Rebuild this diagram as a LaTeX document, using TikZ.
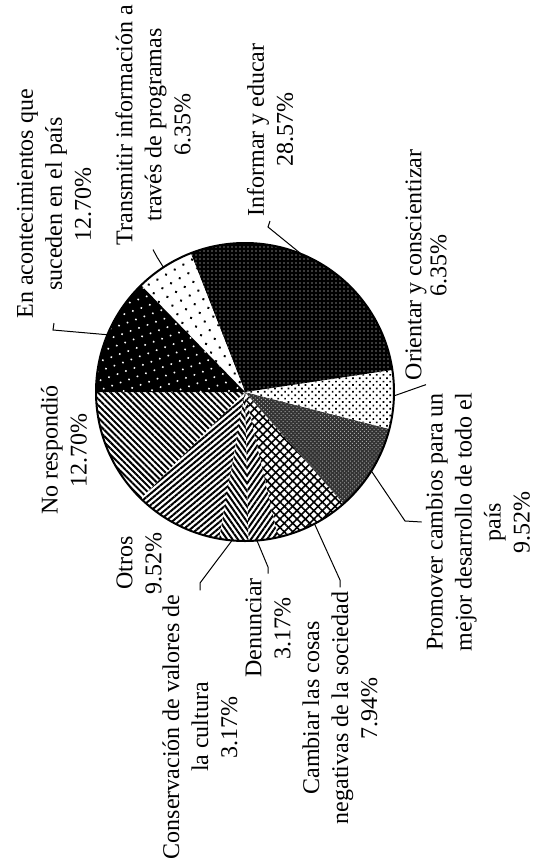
\documentclass[tikz,border=0pt]{standalone}
\usepackage{fontspec}
\setmainfont{Liberation Serif}
\usetikzlibrary{patterns.meta}

\tikzset{
  lbl/.style={rotate=90, align=center, inner sep=2pt, font=\fontsize{12}{14.5}\selectfont},
  leader/.style={line width=.5pt},
  darkdots/.style={fill=black, postaction={pattern={Dots[distance=2pt,radius=.35pt]}, pattern color=white}},
  blackdots/.style={fill=black, postaction={pattern={Dots[distance=4.5pt,radius=.55pt,angle=20]}, pattern color=white}},
  whitedots/.style={fill=white, postaction={pattern={Dots[distance=5pt,radius=.7pt,angle=30]}, pattern color=black}},
  lightdots/.style={fill=white, postaction={pattern={Dots[distance=2.4pt,radius=.6pt,angle=45]}, pattern color=black}},
  graydots/.style={fill=black!80, postaction={pattern={Dots[distance=1.4pt,radius=.35pt,angle=45]}, pattern color=black!35}},
  diamonds/.style={fill=white, postaction={pattern={Lines[angle=45,distance=3pt,line width=.8pt]}},
                   postaction={pattern={Lines[angle=-45,distance=3pt,line width=.8pt]}}},
  hatchdown/.style={fill=white, postaction={pattern={Lines[angle=-45,distance=2.2pt,line width=1pt]}}},
  hatchup/.style={fill=white, postaction={pattern={Lines[angle=40,distance=2.2pt,line width=1pt]}}},
  steepdown/.style={fill=white, postaction={pattern={Lines[angle=-55,distance=2.2pt,line width=1pt]}}},
  steepup/.style={fill=white, postaction={pattern={Lines[angle=55,distance=2.2pt,line width=1pt]}}},
}

\newcommand{\pieslice}[3]{\path[#3] (C) -- ++(#1:149) arc[start angle=#1, end angle=#2, radius=149] -- cycle;}

\begin{document}
\begin{tikzpicture}[x=.5pt,y=.5pt]
\useasboundingbox (0,0) rectangle (537,-867);
\coordinate (C) at (245,-392);
% slices
\pieslice{180}{225.72}{hatchdown}
\pieslice{225.72}{259.99}{hatchup}
\pieslice{259.99}{271.40}{steepdown}
\pieslice{271.40}{282.81}{steepup}
\pieslice{282.81}{311.39}{diamonds}
\pieslice{311.39}{345.66}{graydots}
\pieslice{345.66}{368.52}{lightdots}
\pieslice{8.52}{111.37}{darkdots}
\pieslice{111.37}{134.23}{whitedots}
\pieslice{134.23}{180}{blackdots}
% outline
\draw[line width=1pt] (C) circle (149);

% labels
\node[lbl] (lblEn) at (54,-204) {En acontecimientos que\\suceden en el país\\12.70\%};
\node[lbl] (lblTr) at (153,-125) {Transmitir información a\\través de programas\\6.35\%};
\node[lbl] (lblIn) at (270,-130) {Informar y educar\\28.57\%};
\node[lbl] (lblOr) at (426,-265) {Orientar y conscientizar\\[-2pt]6.35\%};
\node[lbl] (lblPr) at (478,-522) {Promover cambios para un\\mejor desarrollo de todo el\\país\\9.52\%};
\node[lbl] (lblCa) at (340,-708) {Cambiar las cosas\\negativas de la sociedad\\7.94\%};
\node[lbl] (lblDe) at (268,-628) {Denunciar\\3.17\%};
\node[lbl] (lblCo) at (200,-727) {Conservación de valores de\\la cultura\\3.17\%};
\node[lbl] (lblOt) at (139,-563) {Otros\\9.52\%};
\node[lbl] (lblNo) at (64,-450) {No respondió\\12.70\%};

% leaders
\path (C) ++(157.4:149) coordinate (pEn);
\path (C) ++(123.2:149) coordinate (pTr);
\path (C) ++(67.8:149) coordinate (pIn);
\path (C) ++(-1.5:149) coordinate (pOr);
\path (C) ++(-32:149) coordinate (pPr);
\path (C) ++(-62.2:149) coordinate (pCa);
\path (C) ++(-85.4:149) coordinate (pDe);
\path (C) ++(-95:149) coordinate (pCo);
\coordinate (kEn) at (53,-330);
\coordinate (kTr) at (157,-257);
\coordinate (kIn) at (268,-227);
\coordinate (kOr) at (422,-386);
\coordinate (kPr) at (405,-521);
\coordinate (kCa) at (340,-580);
\coordinate (kDe) at (268,-567);
\coordinate (kCo) at (200,-583);
\draw[leader] (pEn) -- (kEn) -- (lblEn.west);
\draw[leader] (pTr) -- (kTr) -- (lblTr.west);
\draw[leader] (pIn) -- (kIn) -- (lblIn.west);
\draw[leader] (pOr) -- (kOr) -- (lblOr.west);
\draw[leader] (pPr) -- (kPr) -- (lblPr.north);
\draw[leader] (pCa) -- (kCa) -- (lblCa.east);
\draw[leader] (pDe) -- (kDe) -- (lblDe.east);
\draw[leader] (pCo) -- (kCo) -- (lblCo.east);
\end{tikzpicture}
\end{document}
